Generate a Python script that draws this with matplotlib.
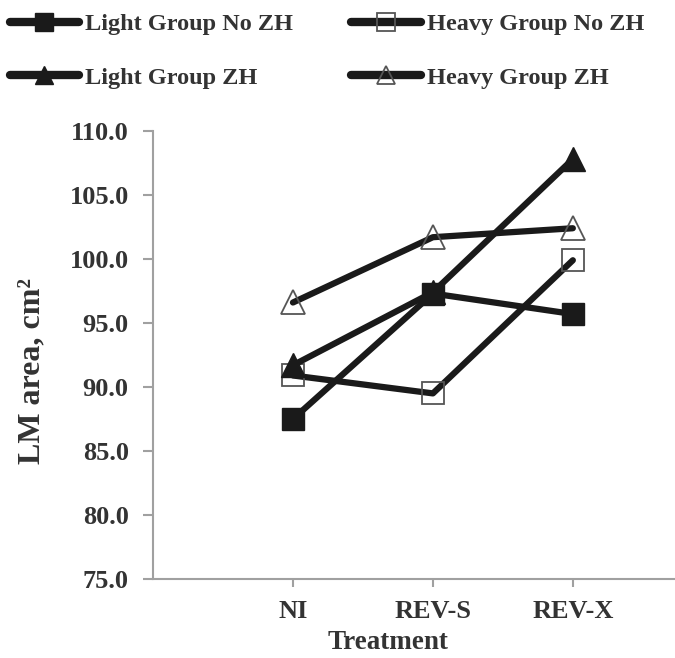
import matplotlib
matplotlib.use('Agg')
import matplotlib.pyplot as plt

# LM area by treatment
treatments = ['NI', 'REV-S', 'REV-X']
light_no_zh = [87.5, 97.3, 95.7]
heavy_no_zh = [90.9, 89.5, 99.9]
light_zh = [91.7, 97.4, 107.8]
heavy_zh = [96.6, 101.7, 102.4]

plt.rcParams['font.family'] = ['Liberation Serif', 'DejaVu Serif']
plt.rcParams['font.weight'] = 'bold'

fig = plt.figure(figsize=(6.75, 6.58), dpi=100)
ax = fig.add_axes([0.2267, 0.12, 0.7733, 0.681])

x = [1, 2, 3]
dark = '#1a1a1a'
line_kw = dict(color=dark, linewidth=4.5, solid_capstyle='round', solid_joinstyle='round')

ax.plot(x, light_no_zh, marker='s', markersize=15.5, markerfacecolor=dark,
        markeredgecolor=dark, label='Light Group No ZH', **line_kw)
ax.plot(x, heavy_no_zh, marker='s', markersize=15.5, markerfacecolor='none',
        markeredgecolor='#555555', markeredgewidth=1.3, label='Heavy Group No ZH', **line_kw)
ax.plot(x, light_zh, marker='^', markersize=17, markerfacecolor=dark,
        markeredgecolor=dark, label='Light Group ZH', **line_kw)
ax.plot(x, heavy_zh, marker='^', markersize=17, markerfacecolor='none',
        markeredgecolor='#555555', markeredgewidth=1.3, label='Heavy Group ZH', **line_kw)

# axes styling
ax.set_xlim(0, 3.73)
ax.set_ylim(75, 110)
ax.set_yticks([75, 80, 85, 90, 95, 100, 105, 110])
ax.set_yticklabels([f'{v:.1f}' for v in ax.get_yticks()])
ax.set_xticks(x)
ax.set_xticklabels(treatments)
for s in ['top', 'right']:
    ax.spines[s].set_visible(False)
for s in ['left', 'bottom']:
    ax.spines[s].set_color('#a0a0a0')
    ax.spines[s].set_linewidth(1.5)
ax.tick_params(axis='both', colors='#a0a0a0', width=1.5, length=7,
               labelsize=19, labelcolor='#333333')
ax.tick_params(axis='y', pad=10.5)
ax.tick_params(axis='x', length=6, pad=9)
ax.set_xlabel('Treatment', fontsize=19.5, fontweight='bold', color='#333333')
ax.set_ylabel('LM area, cm²', fontsize=23, fontweight='bold', color='#333333')
ax.xaxis.set_label_coords((388 - 153) / 522, -0.114)
ax.yaxis.set_label_coords(-0.205, 0.465)
ax.patch.set_visible(False)

# legend at the top, two columns
handles, labels = ax.get_legend_handles_labels()
order = [0, 2, 1, 3]
leg = fig.legend([handles[i] for i in order], [labels[i] for i in order],
                 loc='upper left', bbox_to_anchor=(0.0, 0.995), ncol=2,
                 frameon=False, fontsize=17.5, handlelength=2.85, handletextpad=0.25,
                 columnspacing=2.4, labelspacing=1.3, markerscale=0.8,
                 borderaxespad=0.0, borderpad=0.4)
for t in leg.get_texts():
    t.set_color('#333333')
for ln in leg.get_lines():
    ln.set_linewidth(6)

fig.savefig('out.png', dpi=100)
